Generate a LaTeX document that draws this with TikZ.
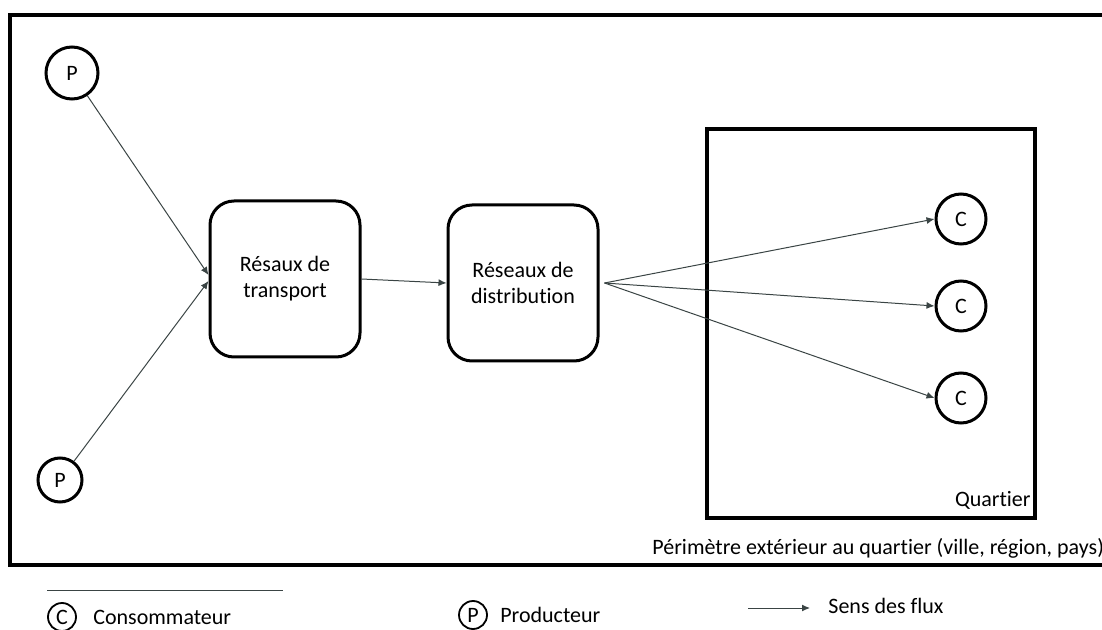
\documentclass[tikz,border=0pt]{standalone}
\usepackage{fontspec}
\setmainfont{Carlito}[Ligatures=NoCommon]
\usepackage{tikz}
\usetikzlibrary{arrows.meta, positioning}
\definecolor{flowgray}{HTML}{3A4444}

\tikzset{
  actor/.style={circle, draw, line width=1.5pt, inner sep=0pt, minimum size=25pt},
  netbox/.style={draw, line width=1.5pt, rounded corners=12pt, align=center,
    minimum width=75pt, minimum height=78pt},
  flow/.style={flowgray, line width=0.5pt, -{Latex[length=4pt,width=3.5pt]}},
  frame/.style={line width=1.6pt}
}

\begin{document}
\begin{tikzpicture}[x=0.5pt, y=-0.5pt, font=\fontsize{11}{13}\selectfont]
        \useasboundingbox (0,0) rectangle (1102,630);
        \clip (0,0) rectangle (1102,630);
        % perimetre exterieur
        \draw[frame] (1110,15) -- (10,15) -- (10,565) -- (1110,565);
        \node[anchor=west, inner sep=0pt] (perim) at (652,548)
          {Périmètre extérieur au quartier (ville, région, pays)};
        % quartier
        \draw[frame] (707,129) rectangle (1035,518);
        \node[anchor=east, inner sep=0pt] (quart) at (1031,500) {Quartier};

        % producteurs
        \node[actor, minimum size=26pt] (p1) at (72,73) {P};
        \node[actor, minimum size=22pt] (p2) at (60,480) {P};

        % reseaux
        \node[netbox] (tr) at (285,279) {Résaux de\\transport};
        \node[netbox] (di) at (523,283) {Réseaux de\\distribution};

        % consommateurs
        \node[actor] (c1) at (961,219) {C};
        \node[actor] (c2) at (961,306) {C};
        \node[actor] (c3) at (961,398) {C};

        \draw[flow] (p1) -- ([yshift=2pt]tr.west);
        \draw[flow] (p2) -- ([yshift=-1pt]tr.west);
        \draw[flow] (tr.east) -- (di.west);
        \coordinate (split) at ([xshift=2.5pt]di.east);
        \foreach \c in {c1,c2,c3}
          \draw[flow] (split) -- (\c.west);

        % legende
        \draw[flowgray, line width=0.5pt] (47,590) -- (283,590);
        \node[actor, line width=0.9pt, minimum size=14pt] (lc) at (62,617) {C};
        \node[right=8pt of lc, inner sep=0pt] (lctxt) {Consommateur};
        \node[actor, line width=0.9pt, minimum size=14pt] (lp) at (473,615) {P};
        \node[right=6pt of lp, inner sep=0pt] (lptxt) {Producteur};
        \coordinate (la) at (748,608);
        \coordinate (lb) at (810,608);
        \draw[flow] (la) -- (lb);
        \node[right=9pt of lb, inner sep=0pt, yshift=1pt] (latxt) {Sens des flux};
      \end{tikzpicture}
\end{document}
